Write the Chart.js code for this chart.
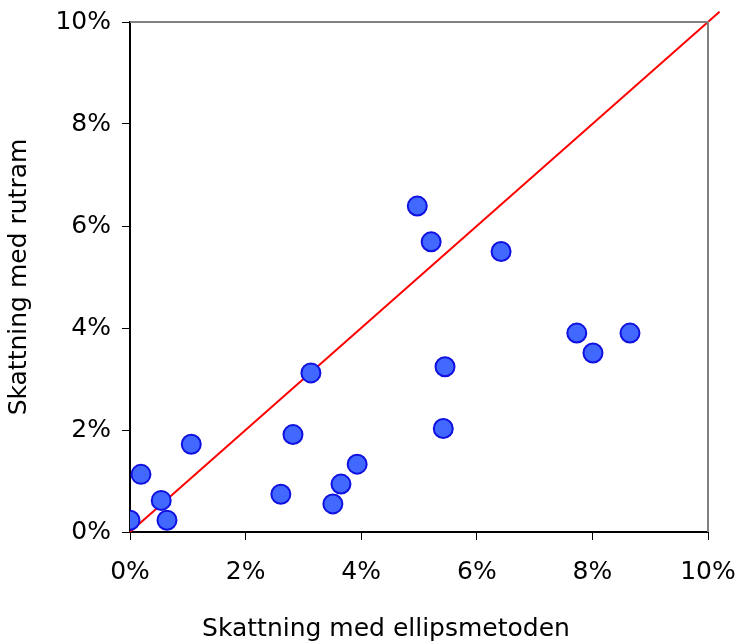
<!DOCTYPE html>
<html>
<head>
<meta charset="utf-8">
<script src="https://cdn.jsdelivr.net/npm/chart.js@4"></script>
<style>
  html, body { margin: 0; padding: 0; background: #fff; }
  #wrap { width: 739px; height: 644px; }
</style>
</head>
<body>
<div id="wrap"><canvas id="scatterChart"></canvas></div>
<script>
// values in percent
const ellipsValues = [0.0, 0.19, 0.54, 0.64, 1.06, 2.61, 2.82, 3.13, 3.51, 3.65, 3.93, 4.97, 5.21, 5.42, 5.45, 6.42, 7.73, 8.01, 8.65];
const rutramValues = [0.23, 1.13, 0.62, 0.23, 1.72, 0.74, 1.91, 3.12, 0.55, 0.94, 1.33, 6.39, 5.69, 2.03, 3.24, 5.50, 3.90, 3.51, 3.90];
const lineX = [0, 10.2];
const lineY = [0, 10.2];
const tickValues = [0, 2, 4, 6, 8, 10];
const xTitle = 'Skattning med ellipsmetoden';
const yTitle = 'Skattning med rutram';

const FONT = 'DejaVu Sans, Verdana, sans-serif';

// gray top/right frame like the excel plot area, plus the x title
// (the original title sits left of the plot centre, so draw it by hand)
const frame = {
    id: 'frame',
    afterDraw(chart) {
        const a = chart.chartArea;
        const c = chart.ctx;
        c.save();
        c.strokeStyle = '#808080';
        c.lineWidth = 2;
        c.beginPath();
        c.moveTo(a.left, a.top);
        c.lineTo(a.right, a.top);
        c.lineTo(a.right, a.bottom);
        c.stroke();

        c.fillStyle = '#000';
        c.font = '25px ' + FONT;
        c.textAlign = 'center';
        c.textBaseline = 'middle';
        c.fillText(xTitle, 386, 629);
        c.restore();
    }
};

document.addEventListener('DOMContentLoaded', function() {
    const ctx = document.getElementById('scatterChart');
    new Chart(ctx, {
        type: 'scatter',
        data: {
            datasets: [{
                type: 'line',
                data: lineX.map((x, i) => ({x: x, y: lineY[i]})),
                borderColor: '#ff0000',
                borderWidth: 2,
                pointRadius: 0,
                clip: false,
                order: 2
            }, {
                data: ellipsValues.map((x, i) => ({x: x, y: rutramValues[i]})),
                backgroundColor: '#4169ff',
                borderColor: '#1010e0',
                borderWidth: 2,
                pointRadius: 9.5,
                order: 1
            }]
        },
        options: {
            responsive: true,
            maintainAspectRatio: false,
            animation: false,
            layout: { padding: { top: 22, right: 31, left: 0, bottom: 0 } },
            plugins: { legend: { display: false }, tooltip: { enabled: false } },
            scales: {
                x: {
                    type: 'linear',
                    min: 0,
                    max: 10,
                    afterBuildTicks: (s) => { s.ticks = tickValues.map(v => ({value: v})); },
                    afterFit: (s) => { s.height = 112; s.paddingLeft = 0; s.paddingRight = 0; },
                    ticks: {
                        callback: (v) => v + '%',
                        color: '#000',
                        font: { family: FONT, size: 25 },
                        padding: 17,
                        maxRotation: 0
                    },
                    grid: { drawOnChartArea: false, tickLength: 8, color: '#000', lineWidth: 1 },
                    border: { color: '#000', width: 2 }
                },
                y: {
                    type: 'linear',
                    min: 0,
                    max: 10,
                    afterBuildTicks: (s) => { s.ticks = tickValues.map(v => ({value: v})); },
                    afterFit: (s) => { s.width = 130; s.paddingTop = 0; s.paddingBottom = 0; },
                    ticks: {
                        callback: (v) => v + '%',
                        color: '#000',
                        font: { family: FONT, size: 25 },
                        padding: 11
                    },
                    grid: { drawOnChartArea: false, tickLength: 8, color: '#000', lineWidth: 1 },
                    border: { color: '#000', width: 2 },
                    title: {
                        display: true,
                        text: yTitle,
                        color: '#000',
                        font: { family: FONT, size: 25 },
                        padding: { top: 4, bottom: 4 }
                    }
                }
            }
        },
        plugins: [frame]
    });
});
</script>
</body>
</html>
